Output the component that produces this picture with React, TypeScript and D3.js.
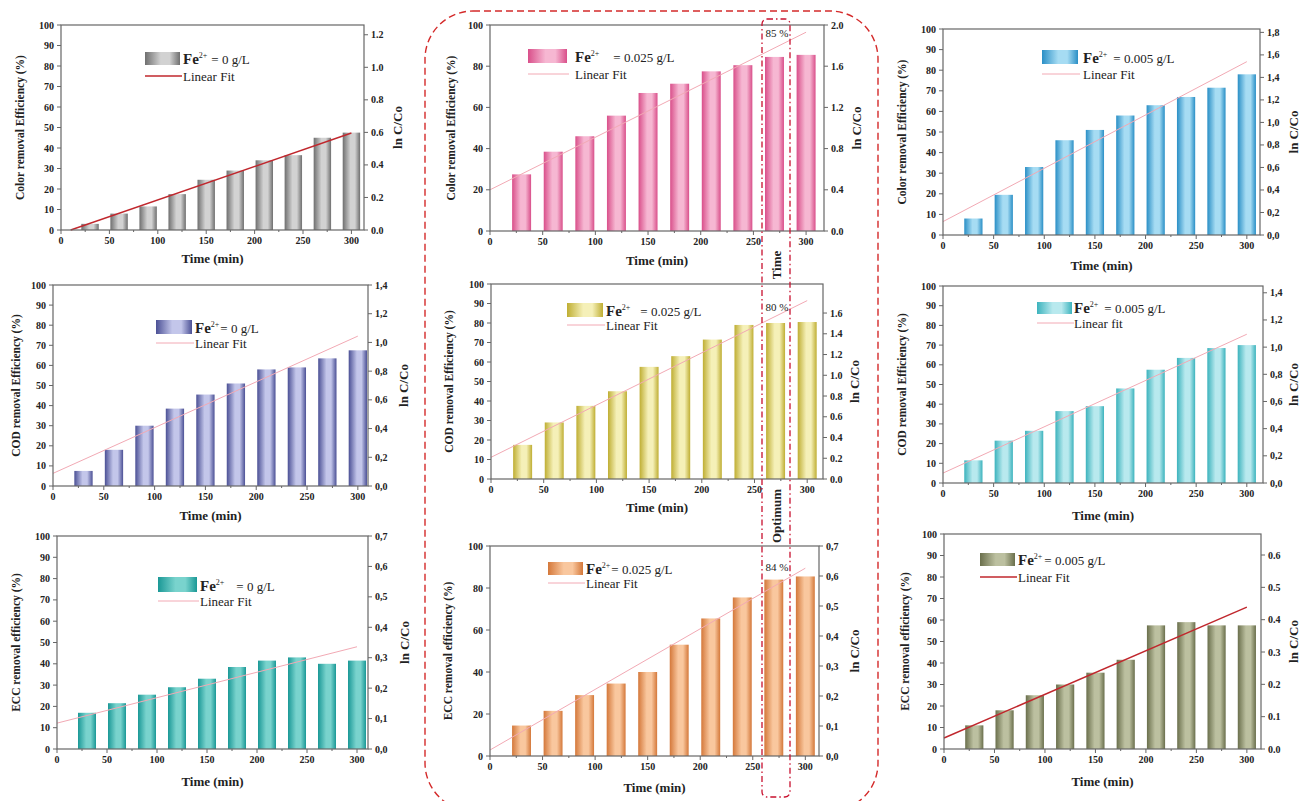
import React from "react";
import * as d3 from "d3";

// ---------- DATA ----------
const TIME = [30, 60, 90, 120, 150, 180, 210, 240, 270, 300];

const COLOR_FE0 = [3, 8, 11.5, 17.5, 24.5, 29, 34, 36.5, 45, 47.5];
const COLOR_FE025 = [27.5, 38.5, 46, 56, 67, 71.5, 77.5, 80.5, 84.5, 85.5];
const COLOR_FE005 = [8, 19.5, 33, 46, 51, 58, 63, 67, 71.5, 78];
const COD_FE0 = [7.5, 18, 30, 38.5, 45.5, 51, 58, 59, 63.5, 67.5];
const COD_FE025 = [17.5, 29, 37.5, 45, 57.5, 63, 71.5, 79, 80, 80.5];
const COD_FE005 = [11.5, 21.5, 26.5, 36.5, 39, 48, 57.5, 63.5, 68.5, 70];
const ECC_FE0 = [17, 21.5, 25.5, 29, 33, 38.5, 41.5, 43, 40, 41.5];
const ECC_FE025 = [14.5, 21.5, 29, 34.5, 40, 53, 65.5, 75.5, 84, 85.5];
const ECC_FE005 = [11, 18, 25, 30, 35.5, 41.5, 57.5, 59, 57.5, 57.5];

// linear fit endpoints: [t0, lnC/Co at t0, t1, lnC/Co at t1]
const FIT_COLOR_FE0 = [10, 0, 300, 0.596];
const FIT_COLOR_FE025 = [0, 0.4, 300, 1.93];
const FIT_COLOR_FE005 = [0, 0.119, 300, 1.54];
const FIT_COD_FE0 = [0, 0.088, 300, 1.044];
const FIT_COD_FE025 = [0, 0.209, 300, 1.72];
const FIT_COD_FE005 = [0, 0.073, 300, 1.095];
const FIT_ECC_FE0 = [0, 0.085, 300, 0.336];
const FIT_ECC_FE025 = [0, 0.02, 300, 0.626];
const FIT_ECC_FE005 = [0, 0.034, 300, 0.439];

const X_TICKS = [0, 50, 100, 150, 200, 250, 300];
const LEFT_TICKS_10 = [0, 10, 20, 30, 40, 50, 60, 70, 80, 90, 100];
const LEFT_TICKS_20 = [0, 20, 40, 60, 80, 100];
const R_TICKS_12 = [0, 0.2, 0.4, 0.6, 0.8, 1.0, 1.2];
const R_TICKS_20 = [0, 0.4, 0.8, 1.2, 1.6, 2.0];
const R_TICKS_18 = [0, 0.2, 0.4, 0.6, 0.8, 1.0, 1.2, 1.4, 1.6, 1.8];
const R_TICKS_14 = [0, 0.2, 0.4, 0.6, 0.8, 1.0, 1.2, 1.4];
const R_TICKS_16 = [0, 0.2, 0.4, 0.6, 0.8, 1.0, 1.2, 1.4, 1.6];
const R_TICKS_07 = [0, 0.1, 0.2, 0.3, 0.4, 0.5, 0.6, 0.7];
const R_TICKS_06 = [0, 0.1, 0.2, 0.3, 0.4, 0.5, 0.6];

const OPT_LABELS = ["85 %", "80 %", "84 %"];

// ---------- LAYOUT ----------
type Panel = {
  vals: number[]; fit: number[]; lt: number[]; rt: number[]; rMax: number; xMax: number;
  comma: boolean; x0: number; x1: number; yT: number; yB: number;
  yLabel: string; yLabelX: number; rLabelX: number; xLabelY: number;
  c0: string; c1: string; fitColor: string; fitW: number;
  eq: string; eqGap: number; fitText: string;
  lg: { x: number; y: number; w: number; h: number; tx: number; ly: number };
  opt?: { label: string; y: number };
};

const PINKFIT = "#f2a9b4";
const REDFIT = "#c0272d";

const panels: Panel[] = [
  { vals: COLOR_FE0, fit: FIT_COLOR_FE0, lt: LEFT_TICKS_10, rt: R_TICKS_12, rMax: 1.26, xMax: 313, comma: false,
    x0: 61, x1: 364, yT: 25, yB: 230, yLabel: "Color removal Efficiency (%)", yLabelX: 24, rLabelX: 402, xLabelY: 263,
    c0: "#6f6f6f", c1: "#d2d2d2", fitColor: REDFIT, fitW: 1.4, eq: "= 0 g/L", eqGap: 4, fitText: "Linear Fit",
    lg: { x: 145, y: 52, w: 35, h: 13, tx: 183, ly: 76 } },
  { vals: COLOR_FE025, fit: FIT_COLOR_FE025, lt: LEFT_TICKS_20, rt: R_TICKS_20, rMax: 2.0, xMax: 317, comma: false,
    x0: 490, x1: 824, yT: 25, yB: 231, yLabel: "Color removal Efficiency (%)", yLabelX: 455, rLabelX: 861, xLabelY: 265,
    c0: "#d94f8a", c1: "#f6b7d2", fitColor: PINKFIT, fitW: 1, eq: "= 0.025 g/L", eqGap: 14, fitText: "Linear Fit",
    lg: { x: 528, y: 49, w: 39, h: 14, tx: 575, ly: 74 }, opt: { label: OPT_LABELS[0], y: 37 } },
  { vals: COLOR_FE005, fit: FIT_COLOR_FE005, lt: LEFT_TICKS_10, rt: R_TICKS_18, rMax: 1.83, xMax: 313, comma: true,
    x0: 943, x1: 1260, yT: 29, yB: 235, yLabel: "Color removal Efficiency (%)", yLabelX: 906, rLabelX: 1298, xLabelY: 270,
    c0: "#2a8fc6", c1: "#a6dcf3", fitColor: PINKFIT, fitW: 1, eq: "= 0.005 g/L", eqGap: 6, fitText: "Linear Fit",
    lg: { x: 1042, y: 50, w: 36, h: 14, tx: 1083, ly: 74 } },
  { vals: COD_FE0, fit: FIT_COD_FE0, lt: LEFT_TICKS_10, rt: R_TICKS_14, rMax: 1.4, xMax: 310, comma: true,
    x0: 53, x1: 368, yT: 285, yB: 486, yLabel: "COD removal Efficiency (%)", yLabelX: 20, rLabelX: 408, xLabelY: 520,
    c0: "#4b5095", c1: "#c3c6ea", fitColor: PINKFIT, fitW: 1, eq: "= 0 g/L", eqGap: 1, fitText: "Linear Fit",
    lg: { x: 156, y: 320, w: 36, h: 14, tx: 195, ly: 343 } },
  { vals: COD_FE025, fit: FIT_COD_FE025, lt: LEFT_TICKS_10, rt: R_TICKS_16, rMax: 1.88, xMax: 315, comma: false,
    x0: 491, x1: 823, yT: 284, yB: 479, yLabel: "COD removal Efficiency (%)", yLabelX: 453, rLabelX: 859, xLabelY: 512,
    c0: "#bfae33", c1: "#f5f0b8", fitColor: PINKFIT, fitW: 1, eq: "= 0.025 g/L", eqGap: 10, fitText: "Linear Fit",
    lg: { x: 567, y: 303, w: 36, h: 14, tx: 606, ly: 325 }, opt: { label: OPT_LABELS[1], y: 311 } },
  { vals: COD_FE005, fit: FIT_COD_FE005, lt: LEFT_TICKS_10, rt: R_TICKS_14, rMax: 1.45, xMax: 316, comma: true,
    x0: 943, x1: 1263, yT: 286, yB: 483, yLabel: "COD removal Efficiency (%)", yLabelX: 906, rLabelX: 1298, xLabelY: 520,
    c0: "#3cb3bd", c1: "#b8e9ee", fitColor: PINKFIT, fitW: 1, eq: "= 0.005 g/L", eqGap: 6, fitText: "Linear fit",
    lg: { x: 1037, y: 302, w: 35, h: 12, tx: 1074, ly: 323 } },
  { vals: ECC_FE0, fit: FIT_ECC_FE0, lt: LEFT_TICKS_10, rt: R_TICKS_07, rMax: 0.7, xMax: 311, comma: true,
    x0: 57, x1: 368, yT: 536, yB: 749, yLabel: "ECC removal efficiency (%)", yLabelX: 20, rLabelX: 409, xLabelY: 786,
    c0: "#1a9896", c1: "#79d3cd", fitColor: PINKFIT, fitW: 1, eq: "= 0 g/L", eqGap: 12, fitText: "Linear Fit",
    lg: { x: 158, y: 577, w: 39, h: 15, tx: 200, ly: 601 } },
  { vals: ECC_FE025, fit: FIT_ECC_FE025, lt: LEFT_TICKS_20, rt: R_TICKS_07, rMax: 0.7, xMax: 313, comma: true,
    x0: 490, x1: 819, yT: 546, yB: 756, yLabel: "ECC removal efficiency (%)", yLabelX: 452, rLabelX: 859, xLabelY: 792,
    c0: "#d4783a", c1: "#f9c79e", fitColor: PINKFIT, fitW: 1, eq: "= 0.025 g/L", eqGap: 1, fitText: "Linear Fit",
    lg: { x: 548, y: 562, w: 35, h: 13, tx: 586, ly: 583 }, opt: { label: OPT_LABELS[2], y: 571 } },
  { vals: ECC_FE005, fit: FIT_ECC_FE005, lt: LEFT_TICKS_10, rt: R_TICKS_06, rMax: 0.665, xMax: 314, comma: false,
    x0: 944, x1: 1261, yT: 534, yB: 749, yLabel: "ECC removal efficiency (%)", yLabelX: 909, rLabelX: 1298, xLabelY: 786,
    c0: "#6a6f4c", c1: "#bcc0a0", fitColor: REDFIT, fitW: 1.4, eq: "= 0.005 g/L", eqGap: 2, fitText: "Linear Fit",
    lg: { x: 980, y: 553, w: 35, h: 13, tx: 1018, ly: 577 } },
];

const SERIF = "'Liberation Serif', 'DejaVu Serif', serif";
const AX = "#666";

function PanelView({ p, i }: { p: Panel; i: number }) {
  const x = d3.scaleLinear().domain([0, p.xMax]).range([p.x0, p.x1]);
  const y = d3.scaleLinear().domain([0, 100]).range([p.yB, p.yT]);
  const yr = d3.scaleLinear().domain([0, p.rMax]).range([p.yB, p.yT]);
  const barW = x(18) - x(0);
  const fmt = (v: number) => {
    const s = v.toFixed(1);
    return p.comma ? s.replace(".", ",") : s;
  };
  const gid = `g${i}`;
  const fitLine = d3.line<[number, number]>().x((d) => x(d[0])).y((d) => yr(d[1]));
  const fitPts: [number, number][] = [[p.fit[0], p.fit[1]], [p.fit[2], p.fit[3]]];
  const lx = (p.x0 + p.x1) / 2 - 5;
  return (
    <g>
      <defs>
        <linearGradient id={gid} x1="0" x2="1" y1="0" y2="0">
          <stop offset="0" stopColor={p.c0} />
          <stop offset="0.45" stopColor={p.c1} />
          <stop offset="0.7" stopColor={p.c1} />
          <stop offset="1" stopColor={p.c0} />
        </linearGradient>
      </defs>
      <rect x={p.x0} y={p.yT} width={p.x1 - p.x0} height={p.yB - p.yT} fill="#fff" />
      {p.vals.map((v, k) => (
        <rect key={k} x={x(TIME[k]) - barW / 2} y={y(v)} width={barW} height={y(0) - y(v)} fill={`url(#${gid})`} />
      ))}
      <path d={fitLine(fitPts) || ""} stroke={p.fitColor} strokeWidth={p.fitW} fill="none" />
      {/* frame */}
      <rect x={p.x0} y={p.yT} width={p.x1 - p.x0} height={p.yB - p.yT} fill="none" stroke={AX} strokeWidth={1.2} />
      {/* x ticks */}
      {X_TICKS.map((t) => (
        <g key={t}>
          <line x1={x(t)} x2={x(t)} y1={p.yB} y2={p.yB + 4} stroke={AX} />
          <text x={x(t)} y={p.yB + 14} textAnchor="middle" fontFamily={SERIF} fontWeight="bold" fontSize={10} fill="#222">{t}</text>
        </g>
      ))}
      {X_TICKS.slice(0, -1).map((t) => (
        <line key={"m" + t} x1={x(t + 25)} x2={x(t + 25)} y1={p.yB} y2={p.yB + 2} stroke={AX} />
      ))}
      {/* left ticks */}
      {p.lt.map((t) => (
        <g key={t}>
          <line x1={p.x0 - 4} x2={p.x0} y1={y(t)} y2={y(t)} stroke={AX} />
          <text x={p.x0 - 7} y={y(t) + 3.5} textAnchor="end" fontFamily={SERIF} fontWeight="bold" fontSize={10} fill="#222">{t}</text>
        </g>
      ))}
      {/* right ticks */}
      {p.rt.map((t) => (
        <g key={t}>
          <line x1={p.x1} x2={p.x1 + 4} y1={yr(t)} y2={yr(t)} stroke={AX} />
          <text x={p.x1 + 7} y={yr(t) + 3.5} textAnchor="start" fontFamily={SERIF} fontWeight="bold" fontSize={10} fill="#222">{fmt(t)}</text>
        </g>
      ))}
      {/* axis titles */}
      <text x={lx + 5} y={p.xLabelY} textAnchor="middle" fontFamily={SERIF} fontWeight="bold" fontSize={13} fill="#222">Time (min)</text>
      <text transform={`translate(${p.yLabelX},${(p.yT + p.yB) / 2}) rotate(-90)`} textAnchor="middle" fontFamily={SERIF} fontWeight="bold" fontSize={11.5} fill="#222">{p.yLabel}</text>
      <text transform={`translate(${p.rLabelX},${(p.yT + p.yB) / 2}) rotate(-90)`} textAnchor="middle" fontFamily={SERIF} fontWeight="bold" fontSize={13} fill="#222">ln C/Co</text>
      {/* legend */}
      <rect x={p.lg.x} y={p.lg.y} width={p.lg.w} height={p.lg.h} fill={`url(#${gid})`} />
      <text x={p.lg.tx} y={p.lg.y + p.lg.h - 1} fontFamily={SERIF} fill="#222" fontSize={13}>
        <tspan fontWeight="bold" fontSize={15}>Fe</tspan>
        <tspan fontSize={8} dy={-6}>2+</tspan>
        <tspan dy={6} dx={p.eqGap}>{p.eq}</tspan>
      </text>
      <line x1={p.lg.x} x2={p.lg.x + p.lg.w + 2} y1={p.lg.ly} y2={p.lg.ly} stroke={p.fitColor} strokeWidth={p.fitW} />
      <text x={p.lg.tx} y={p.lg.ly + 4.5} fontFamily={SERIF} fontSize={13} fill="#222">{p.fitText}</text>
      {p.opt && (
        <text x={777} y={p.opt.y} textAnchor="middle" fontFamily={SERIF} fontSize={11} fill="#222">{p.opt.label}</text>
      )}
    </g>
  );
}

export default function App() {
  return (
    <svg width={1304} height={801} style={{ position: "absolute", left: 0, top: 0, background: "#fff" }}>
      <rect x={0} y={0} width={1304} height={801} fill="#fff" />
      {/* big dashed rounded frame around middle column */}
      <rect x={425} y={11} width={453} height={800} rx={48} ry={48} fill="none" stroke="#d42a2a" strokeWidth={1.4} strokeDasharray="7,4" />
      {/* optimum texts (partially hidden behind middle panel) */}
      <text transform="translate(781,265) rotate(-90)" textAnchor="middle" fontFamily={SERIF} fontWeight="bold" fontSize={13} fill="#222">Time</text>
      <text transform="translate(781,516) rotate(-90)" textAnchor="middle" fontFamily={SERIF} fontWeight="bold" fontSize={13} fill="#222">Optimum</text>
      {panels.map((p, i) => (
        <PanelView key={i} p={p} i={i} />
      ))}
      {/* optimum dash-dot frame */}
      <rect x={762} y={19} width={28} height={778} rx={5} ry={5} fill="none" stroke="#c8102e" strokeWidth={1.3} strokeDasharray="6,3,1.5,3" />
    </svg>
  );
}
